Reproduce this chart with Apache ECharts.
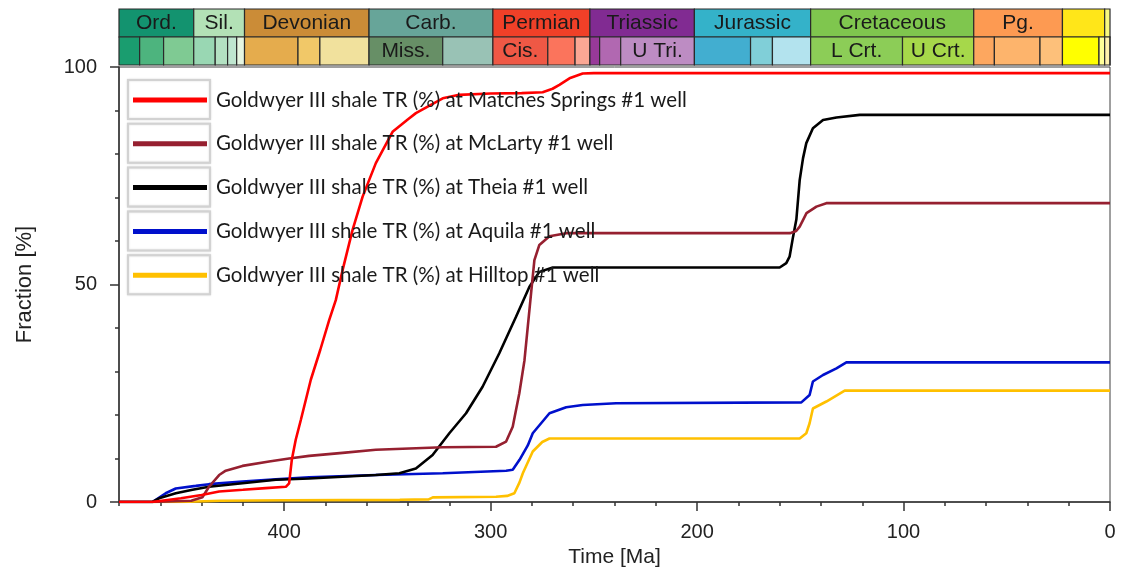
<!DOCTYPE html>
<html>
<head>
<meta charset="utf-8">
<script src="https://cdn.jsdelivr.net/npm/echarts@6/dist/echarts.min.js"></script>
<style>
  html, body { margin: 0; padding: 0; background: #fff; }
  #chart { width: 1123px; height: 574px; }
</style>
</head>
<body>
<div id="chart"></div>
<script>
// ---- Transformation ratio curves (age in Ma, TR in %) ----
const seriesNames = [
  'Goldwyer III shale TR (%) at Matches Springs #1 well',
  'Goldwyer III shale TR (%) at McLarty #1 well',
  'Goldwyer III shale TR (%) at Theia #1 well',
  'Goldwyer III shale TR (%) at Aquila #1 well',
  'Goldwyer III shale TR (%) at Hilltop #1 well'
];
const seriesColors = ['#ff0000', '#962030', '#000000', '#0010cc', '#ffc000'];

const matchesAge = [480, 464, 450, 440, 431.5, 420, 409, 399.2, 397.6, 396.3, 394.4, 391.9, 389.5, 387.1, 382.5, 378.2, 375, 371.7, 366.9, 362, 355.6, 347.5, 340, 336.2, 323.2, 315.2, 300, 285, 274.8, 270, 266.7, 261.8, 255.4, 250, 0];
const matchesTR  = [0, 0, 0.85, 1.6, 2.4, 2.8, 3.2, 3.5, 4.3, 9.7, 14.3, 18.9, 23.5, 28.1, 35, 41.8, 46.4, 53.3, 62.5, 70.2, 77.9, 85.1, 88, 89.4, 92.8, 93.6, 93.9, 94, 94.2, 95, 95.9, 97.4, 98.5, 98.6, 98.6];

const mclartyAge = [480, 464, 445, 439.6, 436.4, 431.5, 428.3, 420.2, 407.3, 397.6, 387.9, 371.7, 355.6, 339.4, 323.2, 297.4, 292.5, 289.3, 286.1, 283.6, 282, 280.4, 278.8, 276.4, 271.5, 263.4, 155, 152, 150.3, 147, 142.2, 137.4, 0];
const mclartyTR  = [0, 0, 0.3, 1.1, 3.5, 6.2, 7.2, 8.3, 9.3, 10.0, 10.6, 11.3, 12, 12.3, 12.6, 12.7, 13.9, 17.3, 25, 32.6, 40.3, 48, 55.6, 59.1, 61.1, 61.8, 61.8, 62.3, 63.3, 66.4, 67.9, 68.7, 68.7];

const theiaAge = [480, 463.8, 460.6, 452.5, 444.4, 436.4, 420.2, 404, 387.9, 371.7, 355.6, 344.2, 336.2, 328.1, 320, 311.9, 303.9, 295.8, 287.7, 281.2, 276.4, 269.9, 160, 156.8, 155.2, 153.5, 151.9, 150.3, 148.7, 147.1, 143.9, 139, 132.5, 121.2, 0];
const theiaTR  = [0, 0, 0.85, 2, 2.8, 3.5, 4.3, 5.1, 5.4, 5.8, 6.2, 6.6, 7.7, 10.8, 15.8, 20.4, 26.5, 34.2, 42.6, 49.5, 52.9, 53.9, 53.9, 54.9, 56.4, 61, 65, 74, 79, 82.5, 85.9, 87.8, 88.4, 89, 89];

const aquilaAge = [480, 463.8, 457.4, 452.5, 442.8, 436.4, 420.2, 404, 387.9, 355.6, 323.2, 292.5, 289.3, 286, 282, 279.6, 271.5, 263.4, 255.4, 239.2, 149.5, 145.5, 143.9, 139, 132.5, 127.7, 0];
const aquilaTR  = [0, 0, 2.0, 3.1, 3.7, 4.1, 4.7, 5.2, 5.7, 6.2, 6.6, 7.2, 7.4, 9.7, 13, 15.8, 20.4, 21.8, 22.3, 22.7, 22.9, 24.6, 27.7, 29.2, 30.7, 32.1, 32.1];

const hilltopAge = [480, 450, 431, 400, 344, 330, 328, 297.4, 292, 288.5, 286, 284.4, 279.6, 275, 271.5, 150.3, 147.1, 145.5, 143.9, 137.4, 128.5, 0];
const hilltopTR  = [0, 0, 0.3, 0.4, 0.5, 0.6, 1.07, 1.2, 1.4, 2, 4.5, 6.6, 11.6, 13.8, 14.6, 14.6, 15.8, 18.1, 21.5, 23.1, 25.6, 25.6];

const curveAges = [matchesAge, mclartyAge, theiaAge, aquilaAge, hilltopAge];
const curveValues = [matchesTR, mclartyTR, theiaTR, aquilaTR, hilltopTR];

// ---- Axis ticks ----
const ageMin = 0, ageMax = 480;
const ageMajorTicks = [0, 100, 200, 300, 400];
const ageMinorTicks = [20, 40, 60, 80, 120, 140, 160, 180, 220, 240, 260, 280, 320, 340, 360, 380, 420, 440, 460, 480];
const fracMajorTicks = [0, 50, 100];
const fracMinorTicks = [10, 20, 30, 40, 60, 70, 80, 90];

// ---- Geologic time scale: periods (top row) ----
const periodLabels = ['Ord.', 'Sil.', 'Devonian', 'Carb.', 'Permian', 'Triassic', 'Jurassic', 'Cretaceous', 'Pg.', '', ''];
const periodStart  = [485.4, 443.8, 419.2, 358.9, 298.9, 251.9, 201.3, 145.0, 66.0, 23.03, 2.58];
const periodEnd    = [443.8, 419.2, 358.9, 298.9, 251.9, 201.3, 145.0, 66.0, 23.03, 2.58, 0];
const periodColors = ['#13936f', '#b3e1b6', '#cb8c37', '#67a599', '#f04028', '#812b92', '#34b2c9', '#7fc64e', '#fd9a52', '#ffe619', '#f9f97f'];

// ---- Geologic time scale: epochs (bottom row) ----
const epochLabels = ['', '', '', '', '', '', '', '', '', '', 'Miss.', '', 'Cis.', '', '', '', '', 'U Tri.', '', '', '', 'L Crt.', 'U Crt.', '', '', '', '', '', '', ''];
const epochStart  = [485.4, 470, 458.4, 443.8, 433.4, 427.4, 423, 419.2, 393.3, 382.7, 358.9, 323.2, 298.9, 272.3, 259.1, 251.9, 247.2, 237, 201.3, 174.1, 163.5, 145, 100.5, 66, 56, 33.9, 23.03, 5.333, 2.58, 0.0117];
const epochEnd    = [470, 458.4, 443.8, 433.4, 427.4, 423, 419.2, 393.3, 382.7, 358.9, 323.2, 298.9, 272.3, 259.1, 251.9, 247.2, 237, 201.3, 174.1, 163.5, 145, 100.5, 66, 56, 33.9, 23.03, 5.333, 2.58, 0.0117, 0];
const epochColors = ['#1a9d6f', '#4db47e', '#7fca93', '#99d7b3', '#b3e1c2', '#bfe6cf', '#e6f5e1', '#e5ac4d', '#f1c868', '#f1e19d', '#678f66', '#99c2b5', '#ef5845', '#fb745c', '#fba794', '#983999', '#b168b1', '#bd8cc3', '#42aed0', '#80cfd8', '#b3e3ee', '#8ccd57', '#a6d84a', '#fda75f', '#fdb46c', '#fdc07a', '#ffff00', '#ffff99', '#fff2ae', '#fef2e0'];

// Flatten both rows into one list of cells: [start, end, row]
const cells = [];
periodLabels.forEach((t, i) => cells.push({ value: [periodStart[i], periodEnd[i], 1], label: t, color: periodColors[i] }));
epochLabels.forEach((t, i) => cells.push({ value: [epochStart[i], epochEnd[i], 0], label: t, color: epochColors[i] }));

const axisFont = '"Liberation Sans", Arial, sans-serif';
const axisColor = '#333';
const labelColor = '#222';

function renderCell(params, api) {
  const cell = cells[params.dataIndex];
  const start = Math.min(api.value(0), ageMax);
  const end = Math.max(api.value(1), ageMin);
  const row = api.value(2);
  const tl = api.coord([start, row + 1]);
  const br = api.coord([end, row]);
  return {
    type: 'rect',
    shape: { x: tl[0], y: tl[1], width: br[0] - tl[0], height: br[1] - tl[1] },
    style: { fill: cell.color, stroke: '#2a2a2a', lineWidth: 1.2 },
    textContent: {
      style: { text: cell.label, fill: '#1a1a1a', font: '21px ' + axisFont }
    },
    textConfig: { position: 'inside' }
  };
}

const lineSeries = seriesNames.map((name, i) => ({
  name: name,
  type: 'line',
  xAxisIndex: 0,
  yAxisIndex: 0,
  data: curveAges[i].map((a, k) => [a, curveValues[i][k]]),
  showSymbol: false,
  symbol: 'none',
  color: seriesColors[i],
  lineStyle: { width: 2.6, color: seriesColors[i] },
  z: 3 + (seriesNames.length - i)
}));

// Framed boxes behind each legend swatch
const legendTop = 89, legendPitch = 43.8, legendRowHeight = 22;
const legendFrames = seriesNames.map((n, i) => ({
  type: 'rect',
  z: 50,
  shape: { x: 128, y: legendTop - 9 + i * legendPitch, width: 82, height: 39 },
  style: { fill: '#fff', stroke: '#d2d2d2', lineWidth: 2, shadowBlur: 2, shadowColor: 'rgba(0,0,0,0.15)' }
}));

const plotBox = { left: 119, top: 67, width: 991, height: 435 };

const chart = echarts.init(document.getElementById('chart'), null, { renderer: 'canvas' });
chart.setOption({
  animation: false,
  backgroundColor: '#fff',
  grid: [
    Object.assign({ show: true, borderColor: '#404040', borderWidth: 1, backgroundColor: 'transparent' }, plotBox),
    { left: 119, top: 9, width: 991, height: 56 },
    // same box again, only carrying the minor ticks
    Object.assign({}, plotBox)
  ],
  legend: {
    data: seriesNames,
    orient: 'vertical',
    left: 133,
    top: legendTop,
    padding: 0,
    itemWidth: 74,
    itemHeight: 5,
    itemGap: legendPitch - legendRowHeight,
    icon: 'rect',
    z: 60,
    textStyle: { fontFamily: 'Lato, "Open Sans", sans-serif', fontSize: 20.5, color: '#1a1a1a', lineHeight: legendRowHeight, padding: [0, 0, 0, 4] }
  },
  graphic: legendFrames,
  xAxis: [
    {
      gridIndex: 0, type: 'value', min: ageMin, max: ageMax, inverse: true, position: 'bottom',
      name: 'Time [Ma]', nameLocation: 'middle', nameGap: 45,
      nameTextStyle: { fontFamily: axisFont, fontSize: 21, color: labelColor },
      axisLine: { show: true, onZero: false, lineStyle: { color: axisColor, width: 1.5 } },
      axisTick: { show: true, customValues: ageMajorTicks, length: 9, lineStyle: { color: axisColor, width: 1.5 } },
      axisLabel: { customValues: ageMajorTicks, fontFamily: axisFont, fontSize: 20, color: labelColor, margin: 20 },
      splitLine: { show: false }
    },
    { gridIndex: 1, type: 'value', min: ageMin, max: ageMax, inverse: true, show: false },
    {
      gridIndex: 2, type: 'value', min: ageMin, max: ageMax, inverse: true, position: 'bottom',
      axisLine: { show: false, onZero: false },
      axisTick: { show: true, customValues: ageMinorTicks, length: 4, lineStyle: { color: axisColor, width: 1.5 } },
      axisLabel: { show: false },
      splitLine: { show: false }
    }
  ],
  yAxis: [
    {
      gridIndex: 0, type: 'value', min: 0, max: 100, interval: 50, position: 'left',
      name: 'Fraction [%]', nameLocation: 'middle', nameGap: 83,
      nameTextStyle: { fontFamily: axisFont, fontSize: 22, color: labelColor },
      axisLine: { show: true, onZero: false, lineStyle: { color: axisColor, width: 1.5 } },
      axisTick: { show: true, customValues: fracMajorTicks, length: 9, lineStyle: { color: axisColor, width: 1.5 } },
      axisLabel: { customValues: fracMajorTicks, fontFamily: axisFont, fontSize: 20, color: labelColor, margin: 22 },
      splitLine: { show: false }
    },
    { gridIndex: 1, type: 'value', min: 0, max: 2, show: false },
    {
      gridIndex: 2, type: 'value', min: 0, max: 100, position: 'left',
      axisLine: { show: false, onZero: false },
      axisTick: { show: true, customValues: fracMinorTicks, length: 4, lineStyle: { color: axisColor, width: 1.5 } },
      axisLabel: { show: false },
      splitLine: { show: false }
    }
  ],
  series: [
    {
      type: 'custom',
      name: 'timescale',
      xAxisIndex: 1,
      yAxisIndex: 1,
      renderItem: renderCell,
      data: cells.map(c => c.value),
      silent: true
    }
  ].concat(lineSeries)
});
</script>
</body>
</html>
